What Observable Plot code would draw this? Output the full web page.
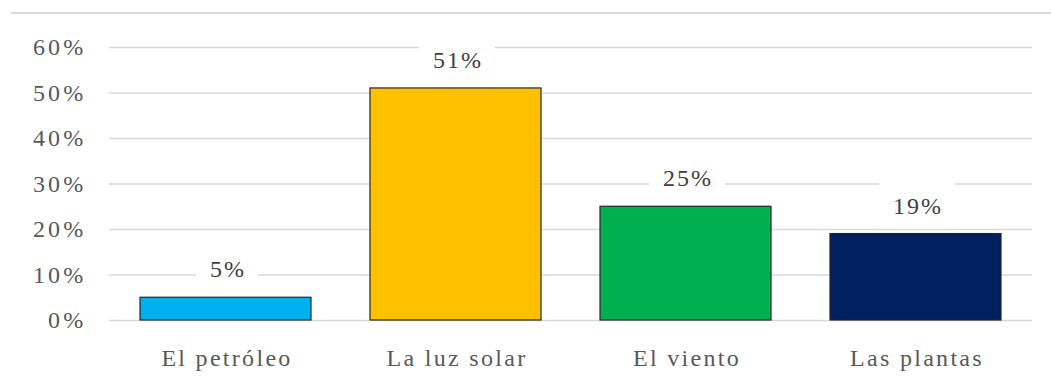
<!DOCTYPE html>
<html>
<head>
<meta charset="utf-8">
<script src="https://cdn.jsdelivr.net/npm/d3@7"></script>
<script src="https://cdn.jsdelivr.net/npm/@observablehq/plot@0.6"></script>
<style>
  html, body { margin: 0; padding: 0; background: #fff; }
  #wrap { position: relative; width: 1051px; height: 387px; }
  #topline { position: absolute; top: 12px; left: 11px; right: 0; height: 2px; background: #dcdcdc; }
  svg { font-family: "Liberation Serif", "Times New Roman", serif; }
  g[aria-label="x-axis tick label"] text { letter-spacing: 2.3px; }
  g[aria-label="y-axis tick label"] text { letter-spacing: 3.2px; }
  g[aria-label="text"] text { letter-spacing: 2px; }
</style>
</head>
<body>
<div id="wrap"><div id="topline"></div></div>
<script>
const categories = ["El petróleo", "La luz solar", "El viento", "Las plantas"];
const values = [5, 51, 25, 19];
const colors = ["#00b0f0", "#ffc000", "#00b050", "#002060"];
const yTicks = [0, 10, 20, 30, 40, 50, 60];

const data = categories.map((c, i) => ({category: c, value: values[i], color: colors[i]}));

const chart = Plot.plot({
  width: 1051,
  height: 387,
  marginLeft: 109,
  marginRight: 19,
  marginTop: 47,
  marginBottom: 67,
  style: {fontFamily: '"Liberation Serif", "Times New Roman", serif', fontSize: "24px", color: "#595959", background: "transparent"},
  x: {domain: categories, paddingInner: 0.255, paddingOuter: 0.13, label: null},
  y: {domain: [0, 60], label: null},
  marks: [
    Plot.gridY(yTicks, {stroke: "#d9d9d9", strokeOpacity: 1, strokeWidth: 1.7}),
    Plot.barY(data, {x: "category", y: "value", fill: "color", stroke: "#262626", strokeWidth: 1.2}),
    Plot.text(data, {x: "category", y: "value", text: d => d.value + "%", dy: -28, dx: 2, lineAnchor: "middle",
      fill: "#404040", fontSize: 24}),
    Plot.axisY(yTicks, {tickSize: 0, tickPadding: 23, tickFormat: d => d + "%", fill: "#595959", fontSize: 24, label: null}),
    Plot.axisX({tickSize: 0, tickPadding: 28, dx: 1, fill: "#595959", fontSize: 24, label: null})
  ]
});
document.getElementById("wrap").appendChild(chart);

// Excel-style white label boxes behind data labels
const textGroup = chart.querySelector('g[aria-label="text"]');
if (textGroup) {
  textGroup.querySelectorAll("text").forEach(t => {
    const b = t.getBBox();
    const m = t.getCTM ? null : null;
    const rect = document.createElementNS("http://www.w3.org/2000/svg", "rect");
    const cx = b.x + (b.width - 2) / 2;
    const cy = b.y + b.height / 2;
    rect.setAttribute("x", cx - (b.width - 2) / 2 - 14);
    rect.setAttribute("width", b.width - 2 + 28);
    rect.setAttribute("y", cy - 23);
    rect.setAttribute("height", 46);
    rect.setAttribute("fill", "white");
    if (t.getAttribute("transform")) rect.setAttribute("transform", t.getAttribute("transform"));
    t.parentNode.insertBefore(rect, t);
  });
}
</script>
</body>
</html>
